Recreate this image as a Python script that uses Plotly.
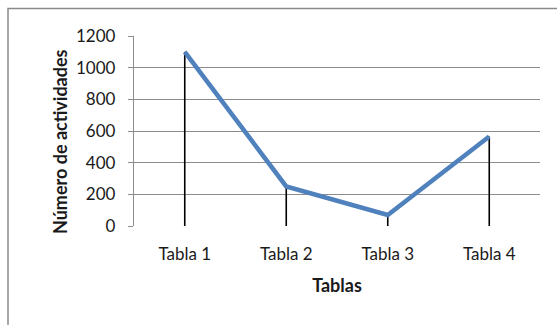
import plotly.graph_objects as go

categories = ["Tabla 1", "Tabla 2", "Tabla 3", "Tabla 4"]
actividades = [1100, 250, 70, 565]
y_ticks = [0, 200, 400, 600, 800, 1000, 1200]

FONT = "Lato"

# plot-area geometry in pixels (used to place the border and y title)
PL, PR, PT, PB = 134, 540, 36, 226
PW, PH = PR - PL, PB - PT

fig = go.Figure()

# Vertical drop lines from each point down to the axis
drop_x, drop_y = [], []
for c, v in zip(categories, actividades):
    drop_x += [c, c, None]
    drop_y += [0, v, None]
fig.add_trace(go.Scatter(
    x=drop_x, y=drop_y, mode="lines",
    line=dict(color="black", width=1.6),
    hoverinfo="skip", showlegend=False,
))

fig.add_trace(go.Scatter(
    x=categories, y=actividades, mode="lines",
    line=dict(color="#4F81BD", width=4.5),
    showlegend=False,
))

fig.update_layout(
    width=557, height=325,
    margin=dict(l=PL, r=557 - PR, t=PT, b=325 - PB),
    paper_bgcolor="white", plot_bgcolor="white",
    font=dict(family=FONT, size=17, color="#1a1a1a"),
    xaxis=dict(
        type="category", range=[-0.5, 3.5],
        showgrid=False, showline=False, zeroline=False,
        ticks="", tickfont=dict(size=17), ticklabelstandoff=16,
        title=dict(text="<b>Tablas</b>", font=dict(size=18), standoff=16),
    ),
    yaxis=dict(
        range=[0, 1200], tickvals=y_ticks,
        showgrid=True, gridcolor="#8c8c8c", gridwidth=1.3,
        showline=True, linecolor="#8c8c8c", linewidth=1.3,
        zeroline=False,
        ticks="outside", ticklen=5, tickcolor="#8c8c8c", tickwidth=1.3,
        tickfont=dict(size=17), ticklabelstandoff=9,
    ),
    annotations=[
        dict(text="<b>Número de actividades</b>", textangle=-90,
             xref="paper", yref="paper",
             x=(60 - PL) / PW, y=(PB - 142) / PH,
             xanchor="center", yanchor="middle", showarrow=False,
             font=dict(size=18, family=FONT, color="#1a1a1a")),
    ],
    shapes=[
        # outer chart border
        dict(type="rect", xref="paper", yref="paper",
             x0=(8 - PL) / PW, x1=(565 - PL) / PW,
             y0=(PB - 340) / PH, y1=(PB - 8.5) / PH,
             line=dict(color="#8a8a8a", width=1.5), layer="below"),
    ],
)

fig.write_html("out.html")
